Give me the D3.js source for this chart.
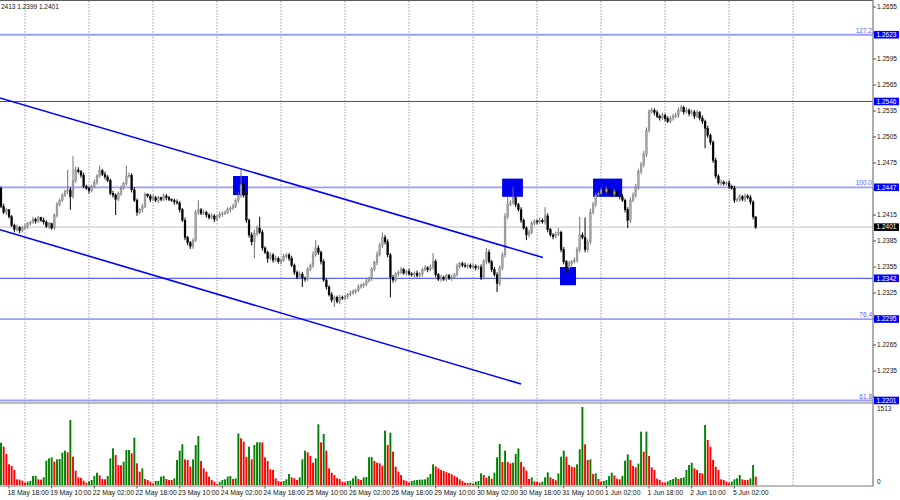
<!DOCTYPE html>
<html><head><meta charset="utf-8">
<script src="https://cdn.jsdelivr.net/npm/d3@7"></script>
<style>body{margin:0;background:#fff}svg{display:block}text{font-family:"Liberation Sans",Arial,sans-serif}</style>
</head><body><svg id="c" width="900" height="500"></svg>
<script>
// ---------- DATA ----------
const tradingDays = ["18 May","19 May","22 May","23 May","24 May","25 May","26 May","29 May","30 May","31 May","1 Jun","2 Jun","5 Jun"];
const firstHour = 15;          // first bar: 18 May 15:00 (H1 bars)
const firstOpen = 1.2446;
const closes = [
1.2425,1.2418,1.2421,1.2413,1.2403,1.2398,1.2401,1.2397,1.2400,1.2402,1.2405,1.2407,1.2410,1.2408,1.2412,1.2409,1.2407,1.2402,1.2405,1.2400,1.2415,1.2427,1.2432,1.2438,
1.2442,1.2444,1.2436,1.2455,1.2467,1.2465,1.2461,1.2448,1.2446,1.2443,1.2448,1.2453,1.2460,1.2466,1.2462,1.2459,1.2455,1.2440,1.2438,1.2433,1.2440,1.2446,1.2451,1.2460,
1.2461,1.2444,1.2432,1.2418,1.2421,1.2425,1.2439,1.2437,1.2433,1.2435,1.2432,1.2435,1.2433,1.2437,1.2435,1.2433,1.2432,1.2430,1.2429,1.2421,1.2409,1.2389,1.2383,1.2379,
1.2386,1.2418,1.2421,1.2417,1.2418,1.2415,1.2412,1.2414,1.2410,1.2413,1.2416,1.2417,1.2418,1.2421,1.2423,1.2425,1.2432,1.2437,1.2450,1.2438,1.2409,1.2392,1.2384,1.2394,
1.2400,1.2395,1.2377,1.2372,1.2365,1.2369,1.2363,1.2365,1.2361,1.2363,1.2367,1.2369,1.2365,1.2357,1.2349,1.2343,1.2347,1.2342,1.2341,1.2352,1.2357,1.2369,1.2377,1.2372,
1.2361,1.2340,1.2332,1.2323,1.2317,1.2320,1.2315,1.2320,1.2319,1.2321,1.2323,1.2325,1.2327,1.2328,1.2332,1.2334,1.2335,1.2339,1.2342,1.2352,1.2360,1.2369,1.2380,1.2389,
1.2384,1.2369,1.2343,1.2340,1.2347,1.2349,1.2352,1.2348,1.2350,1.2347,1.2346,1.2348,1.2345,1.2347,1.2352,1.2354,1.2352,1.2355,1.2361,1.2346,1.2341,1.2343,1.2341,1.2345,
1.2342,1.2343,1.2346,1.2356,1.2359,1.2357,1.2356,1.2357,1.2355,1.2356,1.2354,1.2355,1.2343,1.2361,1.2372,1.2361,1.2352,1.2346,1.2336,1.2354,1.2369,1.2413,1.2427,1.2429,
1.2435,1.2427,1.2421,1.2409,1.2400,1.2392,1.2395,1.2405,1.2408,1.2407,1.2409,1.2407,1.2414,1.2398,1.2392,1.2390,1.2393,1.2395,1.2375,1.2361,1.2354,1.2359,1.2361,1.2363,
1.2375,1.2392,1.2389,1.2375,1.2384,1.2418,1.2427,1.2438,1.2440,1.2444,1.2442,1.2445,1.2442,1.2439,1.2442,1.2438,1.2436,1.2432,1.2421,1.2409,1.2432,1.2438,1.2447,1.2465,
1.2473,1.2485,1.2513,1.2534,1.2536,1.2533,1.2529,1.2527,1.2530,1.2526,1.2523,1.2527,1.2529,1.2530,1.2536,1.2539,1.2534,1.2536,1.2532,1.2534,1.2529,1.2533,1.2527,1.2523,
1.2515,1.2507,1.2499,1.2478,1.2460,1.2452,1.2453,1.2451,1.2452,1.2448,1.2446,1.2432,1.2433,1.2436,1.2433,1.2437,1.2435,1.2430,1.2413,1.2401];
// upper / lower shadows, in pips
const wickUp = [
2,3,2,1,2,2,3,1,2,3,2,1,3,2,2,1,3,2,2,1,2,3,2,2,
2,23,3,28,4,3,2,3,2,2,2,3,2,6,2,3,2,2,3,2,2,3,2,12,
3,2,3,2,2,3,2,1,2,3,2,2,1,3,2,2,1,2,3,2,2,3,2,2,
2,3,11,2,3,2,2,3,2,2,3,2,2,3,2,3,2,4,17,6,3,2,3,4,
3,13,3,2,2,3,2,3,2,2,3,2,2,3,2,2,3,2,2,3,2,4,9,3,
2,3,2,2,3,2,2,3,2,2,2,3,2,2,3,2,2,3,2,3,2,4,3,6,
3,3,2,3,2,2,3,2,2,3,2,2,3,2,2,3,2,3,10,3,2,3,2,2,
2,3,2,3,2,2,3,2,2,3,2,2,3,3,5,3,2,3,3,3,3,4,9,3,
12,3,2,3,2,2,3,3,2,2,3,2,10,3,2,2,3,5,2,3,2,3,2,3,
3,21,3,23,3,4,3,3,2,3,2,3,2,2,3,2,2,3,2,3,3,3,4,3,
3,4,3,3,3,2,3,2,3,2,3,2,3,3,3,3,2,3,2,3,2,3,2,3,
2,3,2,2,3,2,3,2,2,3,2,3,2,3,2,3,2,3,2,0];
const wickDn = [
2,2,3,2,2,3,2,3,2,2,3,2,2,3,2,2,3,2,3,2,2,3,2,2,
2,3,15,2,3,2,3,2,2,3,2,2,3,2,2,3,2,2,3,18,2,3,2,2,
2,3,2,4,2,3,2,2,3,2,2,3,2,2,3,2,2,3,2,3,2,3,3,3,
3,2,3,2,2,3,2,2,3,2,2,3,2,2,3,2,2,3,2,3,3,3,4,19,
3,2,3,2,5,2,3,2,2,3,2,2,3,2,3,2,2,10,3,2,2,3,2,3,
3,2,3,2,3,8,2,3,2,2,3,2,2,3,2,2,3,2,2,3,2,3,2,3,
3,3,23,3,2,3,2,2,3,2,2,3,2,2,3,2,3,2,3,3,2,3,2,2,
2,3,2,2,3,2,2,3,2,2,3,2,3,2,3,2,3,2,10,3,3,3,3,2,
2,3,2,3,2,6,3,2,2,3,2,2,3,3,2,3,2,2,3,3,6,2,3,2,
3,3,2,3,3,3,2,3,2,2,3,2,2,3,2,2,3,2,3,9,3,2,3,3,
3,3,3,3,2,3,2,3,2,3,2,2,3,2,3,2,3,2,3,2,3,2,3,3,
23,3,3,3,3,2,3,2,2,3,2,3,2,3,2,3,2,3,3,2];
const volumes = [
821,744,602,401,369,291,110,104,84,45,65,78,175,176,110,104,149,472,517,537,453,498,504,627,
666,634,1261,550,278,149,136,84,45,71,97,175,239,188,116,110,175,517,711,582,388,382,453,679,
680,615,918,420,259,323,116,97,65,32,78,79,162,175,116,97,96,129,485,666,790,498,485,356,
498,776,951,466,323,259,162,97,65,19,58,97,110,162,175,116,129,1000,906,841,543,744,498,776,
828,829,826,537,466,304,291,129,78,58,78,110,213,149,129,97,149,498,666,634,563,433,517,1177,
828,990,666,323,239,194,129,116,65,52,78,84,129,175,116,97,149,155,537,543,466,433,420,375,
1054,776,1015,647,356,259,194,97,78,45,78,91,97,104,105,110,149,213,401,360,323,290,272,250,
230,210,175,149,110,78,45,39,45,32,65,78,226,194,142,175,123,239,537,795,446,666,445,420,
433,602,711,446,356,278,116,149,71,65,45,65,149,246,149,116,91,226,550,666,550,388,356,343,
401,692,1513,789,485,498,213,226,116,65,78,97,175,239,188,123,110,175,472,595,485,369,343,414,
1035,647,1036,563,343,291,123,97,52,45,71,97,116,149,116,136,149,291,388,433,323,291,233,226,
1164,873,744,485,356,291,110,97,65,45,65,110,129,194,110,97,96,129,388,162];
const volumeMax = 1513;
const priceTicks = [1.2205,1.2235,1.2265,1.2295,1.2325,1.2355,1.2385,1.2415,1.2445,1.2475,1.2505,1.2535,1.2565,1.2595,1.2625,1.2655];
const levelPrices = [1.2623,1.2546,1.2447,1.2342,1.2295,1.2201];
const levelNames  = ["127.2","","100.0","","76.4","61.8"];
const bidPrice = 1.2401;
const timeLabels = ["18 May 18:00","19 May 10:00","22 May 02:00","22 May 18:00","23 May 10:00","24 May 02:00","24 May 18:00","25 May 10:00","26 May 02:00","26 May 18:00","29 May 10:00","30 May 02:00","30 May 18:00","31 May 10:00","1 Jun 02:00","1 Jun 18:00","2 Jun 10:00","5 Jun 02:00"];
const headerText = "2413 1.2399 1.2401";
// channel lines: [bar, price] endpoints
const channelLines = [[[-0.4,1.2550],[203.2,1.2366]],[[-0.4,1.2398],[195,1.2220]]];
// marker boxes: [bar from, bar to, price top, price bottom]
const markBoxes = [[87,92.6,1.2460,1.2438],[187.9,195.7,1.2457,1.2436],[209.6,215.6,1.2355,1.2334],[222,232.9,1.2457,1.2436]];

// ---------- CHART ----------
const svg = d3.select("#c");
const AX = 873, MAIN_B = 403, VOL_B = 485.5;
const x = d3.scaleLinear().domain([-0.375, 326.96]).range([0, AX]);
const y = d3.scaleLinear().domain([1.2201, 1.2655]).range([400.5, 7]);
const yv = d3.scaleLinear().domain([0, volumeMax]).range([485, 407]);
const pip = 0.0001;

const barTime = i => { const k = i + firstHour; return tradingDays[Math.floor(k/24)] + " " + String(k%24).padStart(2,"0") + ":00"; };
const bars = closes.map((c,i) => {
  const o = i === 0 ? firstOpen : closes[i-1];
  return {i, o, c, h: Math.max(o,c) + wickUp[i]*pip, l: Math.min(o,c) - wickDn[i]*pip, v: volumes[i],
          up: i === 0 || volumes[i] > volumes[i-1]};
});

svg.append("defs").append("clipPath").attr("id","mainClip").append("rect").attr("x",0).attr("y",1).attr("width",AX).attr("height",MAIN_B-1);
svg.append("defs").append("clipPath").attr("id","volClip").append("rect").attr("x",0).attr("y",404).attr("width",AX).attr("height",VOL_B-404);

// period separators
const seps = d3.range(1, tradingDays.length + 1).map(d => d*24 - firstHour);
svg.append("g").selectAll("line").data(seps).join("line")
  .attr("x1", d => x(d)).attr("x2", d => x(d)).attr("y1", 1).attr("y2", VOL_B)
  .attr("stroke", "#9a9a9a").attr("stroke-width", 1).attr("stroke-dasharray", "1.5,1.5");

const main = svg.append("g").attr("clip-path","url(#mainClip)");

// horizontal levels
levelPrices.forEach((p,k) => {
  const fibo = levelNames[k] !== "";
  main.append("line").attr("x1",0).attr("x2",AX).attr("y1",y(p)).attr("y2",y(p))
    .attr("stroke", fibo ? "#9c9cff" : "#3a3aff").attr("stroke-width", fibo ? 1.8 : 1);
});
main.append("line").attr("x1",0).attr("x2",AX).attr("y1",y(bidPrice)).attr("y2",y(bidPrice))
  .attr("stroke","#dcdcdc").attr("stroke-width",1.6);

// marker boxes (behind candles)
main.append("g").selectAll("rect").data(markBoxes).join("rect")
  .attr("x", d => x(d[0])).attr("width", d => x(d[1]) - x(d[0]))
  .attr("y", d => y(d[2])).attr("height", d => y(d[3]) - y(d[2]))
  .attr("fill", "#0000f0");

// candles
const cg = main.append("g");
cg.selectAll("line").data(bars).join("line")
  .attr("x1", d => x(d.i)).attr("x2", d => x(d.i)).attr("y1", d => y(d.h)).attr("y2", d => y(d.l))
  .attr("stroke", d => d.c >= d.o ? "#707070" : "#000").attr("stroke-width", 1);
cg.selectAll("rect").data(bars).join("rect")
  .attr("x", d => x(d.i) - 0.95).attr("width", 1.9)
  .attr("y", d => y(Math.max(d.o,d.c))).attr("height", d => Math.max(0.9, y(Math.min(d.o,d.c)) - y(Math.max(d.o,d.c))))
  .attr("fill", d => d.c >= d.o ? "#a6a6a6" : "#000")
  .attr("stroke", d => d.c >= d.o ? "#7a7a7a" : "#000").attr("stroke-width", 0.35);

// channel lines
main.append("g").selectAll("line").data(channelLines).join("line")
  .attr("x1", d => x(d[0][0])).attr("y1", d => y(d[0][1])).attr("x2", d => x(d[1][0])).attr("y2", d => y(d[1][1]))
  .attr("stroke", "#0000ff").attr("stroke-width", 1.6);

// fibo level texts
levelPrices.forEach((p,k) => {
  if (levelNames[k]) main.append("text").attr("x", AX - 1).attr("y", y(p) - 2).attr("text-anchor","end")
    .attr("font-size", 6.5).attr("fill", "#5a5aff").text(levelNames[k]);
});

// volume
svg.append("g").attr("clip-path","url(#volClip)").selectAll("rect").data(bars).join("rect")
  .attr("x", d => x(d.i) - 0.95).attr("width", 1.9)
  .attr("y", d => yv(d.v)).attr("height", d => 485 - yv(d.v))
  .attr("fill", d => d.up ? "#008000" : "#ff0000");

// frame
svg.append("line").attr("x1",0).attr("x2",AX).attr("y1",0.5).attr("y2",0.5).attr("stroke","#5a5a5a").attr("stroke-width",1);
svg.append("line").attr("x1",0).attr("x2",AX).attr("y1",MAIN_B).attr("y2",MAIN_B).attr("stroke","#7a7a7a").attr("stroke-width",1.2);
svg.append("line").attr("x1",0).attr("x2",AX).attr("y1",VOL_B+0.5).attr("y2",VOL_B+0.5).attr("stroke","#7a7a7a").attr("stroke-width",1);
svg.append("line").attr("x1",AX).attr("x2",AX).attr("y1",0).attr("y2",VOL_B+1).attr("stroke","#8a8a8a").attr("stroke-width",1.4);

// price axis
const fmt = d3.format(".4f");
const levelAll = levelPrices.concat([bidPrice]);
const ax = svg.append("g");
priceTicks.forEach(p => {
  ax.append("line").attr("x1",AX).attr("x2",AX+3).attr("y1",y(p)).attr("y2",y(p)).attr("stroke","#555");
  if (levelAll.some(q => Math.abs(y(q) - y(p)) < 6)) return;
  ax.append("text").attr("x", AX + 4).attr("y", y(p) + 2.3).attr("font-size", 6.5).attr("fill","#111").text(fmt(p));
});
levelAll.forEach(p => {
  const bid = p === bidPrice;
  ax.append("rect").attr("x", AX + 1).attr("y", y(p) - 3.8).attr("width", 25).attr("height", 7.6).attr("fill", bid ? "#000" : "#0000ff");
  ax.append("text").attr("x", AX + 3.5).attr("y", y(p) + 2.3).attr("font-size", 6.5).attr("fill","#fff").text(fmt(p));
});
// volume axis
ax.append("text").attr("x", AX + 4).attr("y", 410.5).attr("font-size", 6.5).attr("fill","#111").text(String(volumeMax));
ax.append("text").attr("x", AX + 4).attr("y", 484).attr("font-size", 6.5).attr("fill","#111").text("0");

// time axis
const maxBar = tradingDays.length * 24;
timeLabels.forEach(lbl => {
  const i = d3.range(0, maxBar).find(j => barTime(j) === lbl);
  if (i === undefined) return;
  svg.append("line").attr("x1", x(i)).attr("x2", x(i)).attr("y1", VOL_B+0.5).attr("y2", VOL_B+3).attr("stroke","#555");
  svg.append("text").attr("x", x(i) - 1.5).attr("y", 495).attr("font-size", 6.8).attr("fill","#111").text(lbl);
});

// header
svg.append("text").attr("x", 1).attr("y", 8.5).attr("font-size", 6.5).attr("fill","#111").text(headerText);
</script></body></html>
